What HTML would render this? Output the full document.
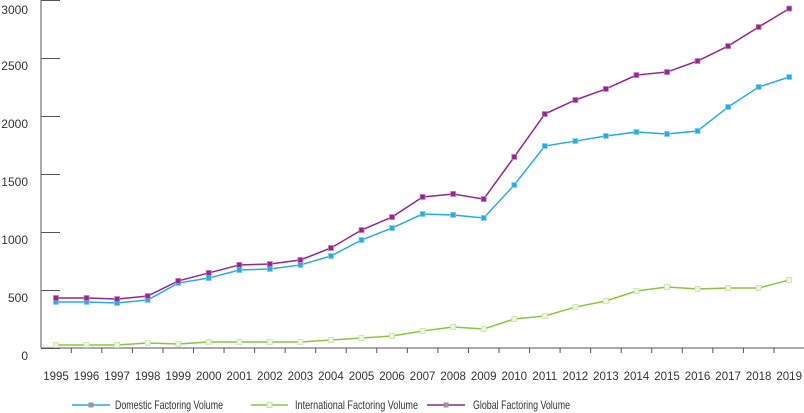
<!DOCTYPE html>
<html><head><meta charset="utf-8"><style>
body{margin:0;background:#fff;}
svg{display:block;font-family:"Liberation Sans",sans-serif;}
</style></head><body>
<svg id="chart" width="804" height="413" viewBox="0 0 804 413">
<g id="axes"></g><g id="series"></g>
<g font-size="12" fill="#333">
 <g><line x1="72" y1="405" x2="110" y2="405" stroke="#29abe2" stroke-width="1.5"/><rect x="88.5" y="402.5" width="5" height="5" fill="#999"/><text x="115" y="409" textLength="108" lengthAdjust="spacingAndGlyphs">Domestic Factoring Volume</text></g>
 <g><line x1="251" y1="405" x2="288" y2="405" stroke="#8cc63f" stroke-width="1.5"/><rect x="267" y="402.5" width="5" height="5" fill="#eef5dd" stroke="#cde0a8"/><text x="295" y="409" textLength="123" lengthAdjust="spacingAndGlyphs">International Factoring Volume</text></g>
 <g><line x1="427" y1="405" x2="465" y2="405" stroke="#92278f" stroke-width="1.5"/><rect x="443.5" y="402.5" width="5" height="5" fill="#999"/><text x="473" y="409" textLength="97" lengthAdjust="spacingAndGlyphs">Global Factoring Volume</text></g>
</g>
</svg>
<script>
const years=[1995,1996,1997,1998,1999,2000,2001,2002,2003,2004,2005,2006,2007,2008,2009,2010,2011,2012,2013,2014,2015,2016,2017,2018,2019];
const domestic=[397,397,388,414,560,603,672,681,716,793,931,1034,1155,1147,1121,1405,1741,1784,1828,1862,1845,1871,2078,2250,2336];
const international=[26,26,26,43,34,52,52,52,52,69,86,103,147,181,164,250,276,353,405,491,526,509,517,517,586];
const global=[431,431,422,448,578,647,716,724,759,862,1017,1129,1302,1328,1284,1647,2017,2138,2233,2353,2379,2474,2603,2767,2926];
const yTicks=[0,500,1000,1500,2000,2500,3000];
const NS="http://www.w3.org/2000/svg";
const x=i=>56+i*30.55;
const y=v=>348-v*58/500;
function mk(tag,attrs,parent){const e=document.createElementNS(NS,tag);for(const k in attrs)e.setAttribute(k,attrs[k]);parent.appendChild(e);return e;}
const ax=document.getElementById('axes');
let a=mk('line',{x1:41,y1:0,x2:41,y2:348,stroke:'#555','stroke-width':1},ax);


a=mk('line',{x1:41,y1:348,x2:804,y2:348,stroke:'#555','stroke-width':1},ax);


yTicks.forEach(v=>{
 const t=mk('line',{x1:41,y1:y(v)+0.5,x2:60,y2:y(v)+0.5,stroke:'#555','stroke-width':1},ax);
 
 
 const l=mk('text',{x:28,y:y(v)+(v===0?12:(v===3000?14:12)),'text-anchor':'end','font-size':12,fill:'#333'},ax);
 l.textContent=v;
 
 
});
years.forEach((yr,i)=>{
 const t=mk('line',{x1:x(i)+15.3,y1:348,x2:x(i)+15.3,y2:353,stroke:'#555','stroke-width':1},ax);
 
 
 const l=mk('text',{x:x(i),y:380,'text-anchor':'middle','font-size':11.5,fill:'#333'},ax);
 l.textContent=yr;
 
 
});
const sg=document.getElementById('series');
function series(data,color,mfill,mstroke,name){
 const g=mk('g',{},sg);
 
 
 const p=mk('polyline',{points:data.map((v,i)=>x(i)+','+y(v)).join(' '),fill:'none',stroke:color,'stroke-width':1.5},g);
 
 
 data.forEach((v,i)=>{
  const r=mk('rect',{x:x(i)-2.5,y:y(v)-2.5,width:5,height:5,fill:mfill,stroke:mstroke,'stroke-width':0.8},g);
  
  
 });
}
series(international,'#8cc63f','#eef5dd','#cde0a8','international-series');
series(domestic,'#29abe2','#29abe2','#7fd0f0','domestic-series');
series(global,'#92278f','#92278f','#c07ec0','global-series');
</script>
</body></html>
